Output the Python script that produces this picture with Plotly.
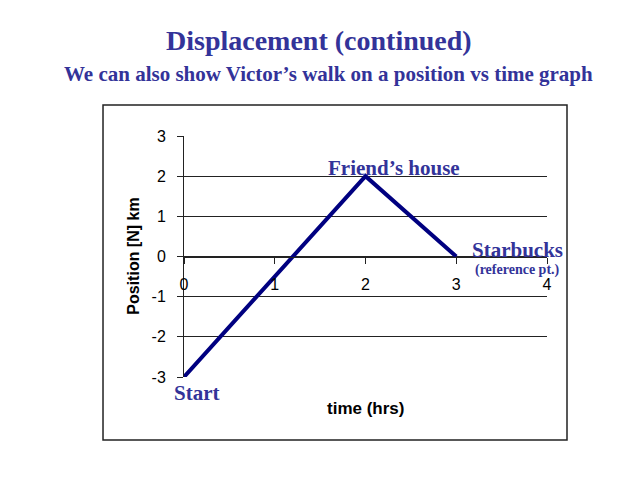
import plotly.graph_objects as go

# Data
time_hrs = [0, 2, 3]
position_km = [-3, 2, 0]
x_ticks = [0, 1, 2, 3, 4]
y_ticks = [-3, -2, -1, 0, 1, 2, 3]

title_text = "Displacement (continued)"
subtitle_text = "We can also show Victor\u2019s walk on a position vs time graph"

label_color = "#333399"
line_color = "#000080"
serif = "Liberation Serif, Times New Roman, serif"
sans = "Liberation Sans, Arial, sans-serif"

fig = go.Figure()
fig.add_trace(go.Scatter(
    x=time_hrs, y=position_km, mode="lines",
    line=dict(color=line_color, width=4),
    cliponaxis=False, showlegend=False, hoverinfo="skip",
))

fig.update_layout(
    width=630, height=471,
    margin=dict(l=176, r=91, t=128, b=102),
    paper_bgcolor="white", plot_bgcolor="white",
    font=dict(family=sans, size=16, color="black"),
    xaxis=dict(
        range=[0, 4], tickvals=x_ticks, ticktext=[str(v) for v in x_ticks],
        anchor="free", position=0.5, showline=True, linecolor="#222", linewidth=1,
        ticks="outside", ticklen=6, tickcolor="#222", showgrid=False, zeroline=False,
        ticklabelstandoff=7, tickfont=dict(family=sans, size=16, color="black"),
    ),
    yaxis=dict(
        range=[-3, 3], tickvals=y_ticks, ticktext=[str(v) for v in y_ticks],
        domain=[0, 1], showline=True, linecolor="#222", linewidth=1,
        ticks="outside", ticklen=6, tickcolor="#222",
        showgrid=True, gridcolor="#222", gridwidth=1, zeroline=False,
        ticklabelstandoff=8,
        tickfont=dict(family=sans, size=16, color="black"),
    ),
    shapes=[dict(
        type="rect", xref="paper", yref="paper",
        x0=-0.2231, x1=1.0551, y0=-0.2614, y1=1.1286,
        line=dict(color="#222", width=1.5), layer="below",
    )],
    annotations=[
        dict(text="<b>" + title_text + "</b>", xref="paper", yref="paper",
             x=0.3725, y=1.398, showarrow=False, xanchor="center", yanchor="middle",
             font=dict(family=serif, size=28, color=label_color)),
        dict(text="<b>" + subtitle_text + "</b>", xref="paper", yref="paper",
             x=0.397, y=1.257, showarrow=False, xanchor="center", yanchor="middle",
             font=dict(family=serif, size=21, color=label_color)),
        dict(text="<b>Position [N] km</b>", xref="paper", yref="paper",
             x=-0.14, y=0.5, textangle=-90, showarrow=False,
             xanchor="center", yanchor="middle",
             font=dict(family=sans, size=16, color="black")),
        dict(text="<b>time (hrs)</b>", xref="paper", yref="paper",
             x=0.499, y=-0.129, showarrow=False, xanchor="center", yanchor="middle",
             font=dict(family=sans, size=17, color="black")),
        dict(text="<b>Friend\u2019s house</b>", xref="x", yref="y",
             x=2.31, y=2.2, showarrow=False, xanchor="center", yanchor="middle",
             font=dict(family=serif, size=21, color=label_color)),
        dict(text="<b>Start</b>", xref="paper", yref="paper",
             x=0.036, y=-0.066, showarrow=False, xanchor="center", yanchor="middle",
             font=dict(family=serif, size=21, color=label_color)),
        dict(text="<b>Starbucks</b>", xref="x", yref="y",
             x=3.67, y=0.17, showarrow=False, xanchor="center", yanchor="middle",
             font=dict(family=serif, size=21, color=label_color)),
        dict(text="<b>(reference pt.)</b>", xref="x", yref="y",
             x=3.67, y=-0.33, showarrow=False, xanchor="center", yanchor="middle",
             font=dict(family=serif, size=14, color=label_color)),
    ],
)

fig.write_html("out.html")
